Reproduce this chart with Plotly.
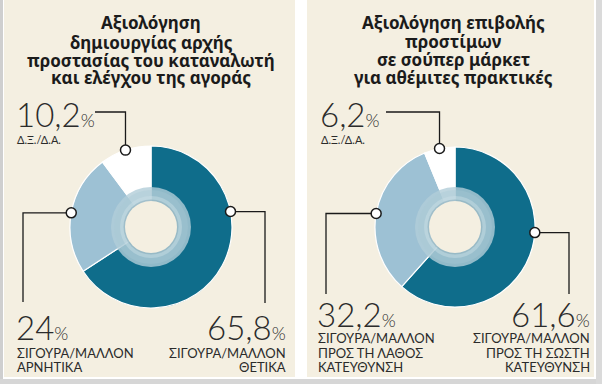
import math
import plotly.graph_objects as go

W, H = 602, 384

# ---------------- data ----------------
titles_1 = ["Αξιολόγηση", "δημιουργίας αρχής", "προστασίας του καταναλωτή", "και ελέγχου της αγοράς"]
categories_1 = ["ΣΙΓΟΥΡΑ/ΜΑΛΛΟΝ ΘΕΤΙΚΑ", "ΣΙΓΟΥΡΑ/ΜΑΛΛΟΝ ΑΡΝΗΤΙΚΑ", "Δ.Ξ./Δ.Α."]
values_1 = [65.8, 24, 10.2]
label_lines_1 = [["ΣΙΓΟΥΡΑ/ΜΑΛΛΟΝ", "ΘΕΤΙΚΑ"], ["ΣΙΓΟΥΡΑ/ΜΑΛΛΟΝ", "ΑΡΝΗΤΙΚΑ"], ["Δ.Ξ./Δ.Α."]]

titles_2 = ["Αξιολόγηση επιβολής", "προστίμων", "σε σούπερ μάρκετ", "για αθέμιτες πρακτικές"]
categories_2 = ["ΣΙΓΟΥΡΑ/ΜΑΛΛΟΝ ΠΡΟΣ ΤΗ ΣΩΣΤΗ ΚΑΤΕΥΘΥΝΣΗ", "ΣΙΓΟΥΡΑ/ΜΑΛΛΟΝ ΠΡΟΣ ΤΗ ΛΑΘΟΣ ΚΑΤΕΥΘΥΝΣΗ", "Δ.Ξ./Δ.Α."]
values_2 = [61.6, 32.2, 6.2]
label_lines_2 = [["ΣΙΓΟΥΡΑ/ΜΑΛΛΟΝ", "ΠΡΟΣ ΤΗ ΣΩΣΤΗ", "ΚΑΤΕΥΘΥΝΣΗ"],
                 ["ΣΙΓΟΥΡΑ/ΜΑΛΛΟΝ", "ΠΡΟΣ ΤΗ ΛΑΘΟΣ", "ΚΑΤΕΥΘΥΝΣΗ"],
                 ["Δ.Ξ./Δ.Α."]]

# ---------------- style ----------------
BEIGE = "#f4efe1"
TEAL = "#0f6d8b"
LIGHT = "#9dc1d4"
WHITE = "#ffffff"
SLICE_COLORS = [TEAL, LIGHT, WHITE]
TEXT = "#2b2b2b"
LIGHT_FONT = "Lato"
TITLE_FONT = "Noto Sans"

panels = [
    dict(titles=titles_1, cats=categories_1, values=values_1, lines=label_lines_1,
         cx=151, cy=227, R=81, tcx=151, tbase=[28, 48, 66, 83],
         specs=[
             dict(angle=79, kind="down", hx=265, vy=303, tx=288, anchor="right", num_top=315, line_tops=[348, 362], fs=13),
             dict(angle=None, kind="down", hx=23, vy=302, tx=14, anchor="left", num_top=315, line_tops=[348, 362], fs=13),
             dict(angle=None, kind="up", hy=112, hx=95, tx=14, anchor="left", num_top=102, line_tops=[135], fs=11),
         ]),
    dict(titles=titles_2, cats=categories_2, values=values_2, lines=label_lines_2,
         cx=455, cy=227, R=80, tcx=453, tbase=[28, 47, 65, 83],
         specs=[
             dict(angle=94, kind="down", hx=569, vy=294, tx=592, anchor="right", num_top=302, line_tops=[333, 348, 362], fs=13),
             dict(angle=None, kind="down", hx=326, vy=294, tx=315, anchor="left", num_top=302, line_tops=[333, 348, 362], fs=13),
             dict(angle=None, kind="up", hy=112, hx=386, tx=318, anchor="left", num_top=102, line_tops=[135], fs=11),
         ]),
]

NUM_FS = 33
PCT_FS = 18
TITLE_FS = 17


def top_for_cap(cap_top, fs, k=0.27):
    return cap_top - 1 - k * fs


fig = go.Figure()
shapes = []
annotations = []

# page background pieces
shapes.append(dict(type="rect", xref="x", yref="y", x0=0, x1=3, y0=0, y1=H, fillcolor="#cfcfcf", line_width=0, layer="below"))
shapes.append(dict(type="rect", xref="x", yref="y", x0=0, x1=W, y0=379, y1=H, fillcolor="#d6d6d6", line_width=0, layer="below"))
shapes.append(dict(type="rect", xref="x", yref="y", x0=596, x1=W, y0=0, y1=H, fillcolor="#dadada", line_width=0, layer="below"))
shapes.append(dict(type="rect", xref="x", yref="y", x0=4, x1=295, y0=0, y1=377, fillcolor=BEIGE, line_width=0, layer="below"))
shapes.append(dict(type="rect", xref="x", yref="y", x0=307, x1=594, y0=0, y1=377, fillcolor=BEIGE, line_width=0, layer="below"))

for p in panels:
    cx, cy, R = p["cx"], p["cy"], p["R"]
    fig.add_trace(go.Pie(
        labels=p["cats"], values=p["values"], sort=False, direction="clockwise", rotation=0,
        hole=0.3, textinfo="none", hoverinfo="label+value",
        marker=dict(colors=SLICE_COLORS, line=dict(color="white", width=1.2)),
        domain=dict(x=[(cx - R) / W, (cx + R) / W], y=[(H - cy - R) / H, (H - cy + R) / H]),
        showlegend=False,
    ))

    # inner translucent ring + hole
    for r, col in [(40, "rgba(178,205,216,0.80)"), (37, "rgba(170,200,212,0.35)"), (31, "rgba(205,224,231,0.45)"),
                   (27.5, "rgba(110,150,165,0.35)"), (26, BEIGE)]:
        shapes.append(dict(type="circle", xref="x", yref="y", x0=cx - r, x1=cx + r, y0=cy - r, y1=cy + r,
                           fillcolor=col, line_width=0, layer="above"))

    # title
    for line, b in zip(p["titles"], p["tbase"]):
        cap_top = b - 0.714 * TITLE_FS
        annotations.append(dict(text=f"<b>{line}</b>", x=p["tcx"], y=cap_top - 1 - 0.355 * TITLE_FS,
                                xref="x", yref="y", xanchor="center", yanchor="top", showarrow=False,
                                font=dict(family=TITLE_FONT, size=TITLE_FS, color="#1b1b1b")))

    # labels + leaders
    total = sum(p["values"])
    start = 0.0
    for i, (v, spec) in enumerate(zip(p["values"], p["specs"])):
        frac = v / total * 360
        ang = spec["angle"] if spec["angle"] is not None else start + frac / 2
        start += frac
        a = math.radians(ang)
        px = cx + R * math.sin(a)
        py = cy - R * math.cos(a)
        if spec["kind"] == "down":
            path = f"M {px},{py} L {spec['hx']},{py} L {spec['hx']},{spec['vy']}"
        else:
            path = f"M {px},{py} L {px},{spec['hy']} L {spec['hx']},{spec['hy']}"
        shapes.append(dict(type="path", xref="x", yref="y", path=path, line=dict(color="#1a1a1a", width=1.3), layer="above"))
        shapes.append(dict(type="circle", xref="x", yref="y", x0=px - 5, x1=px + 5, y0=py - 5, y1=py + 5,
                           fillcolor="white", line=dict(color="#1a1a1a", width=1.5), layer="above"))

        num = f"{v:g}".replace(".", ",")
        annotations.append(dict(text=f"{num}<span style='font-size:{PCT_FS}px'>%</span>",
                                x=spec["tx"], y=top_for_cap(spec["num_top"], NUM_FS), xref="x", yref="y",
                                xanchor=spec["anchor"], yanchor="top", showarrow=False,
                                font=dict(family=LIGHT_FONT, size=NUM_FS, color=TEXT, weight=300)))
        for txt, ct in zip(p["lines"][i], spec["line_tops"]):
            annotations.append(dict(text=txt, x=spec["tx"] + (1 if spec["anchor"] == "left" else 0),
                                    y=top_for_cap(ct, spec["fs"]), xref="x", yref="y",
                                    xanchor=spec["anchor"], yanchor="top", showarrow=False,
                                    font=dict(family=LIGHT_FONT, size=spec["fs"], color=TEXT, weight=400)))

fig.update_layout(
    width=W, height=H, margin=dict(l=0, r=0, t=0, b=0),
    paper_bgcolor="white", plot_bgcolor="rgba(0,0,0,0)",
    xaxis=dict(range=[0, W], visible=False, fixedrange=True),
    yaxis=dict(range=[H, 0], visible=False, fixedrange=True),
    shapes=shapes, annotations=annotations, showlegend=False,
)

fig.write_html("out.html", config={"displayModeBar": False},
               post_script="document.body.style.margin='0';document.body.style.overflow='hidden';")
